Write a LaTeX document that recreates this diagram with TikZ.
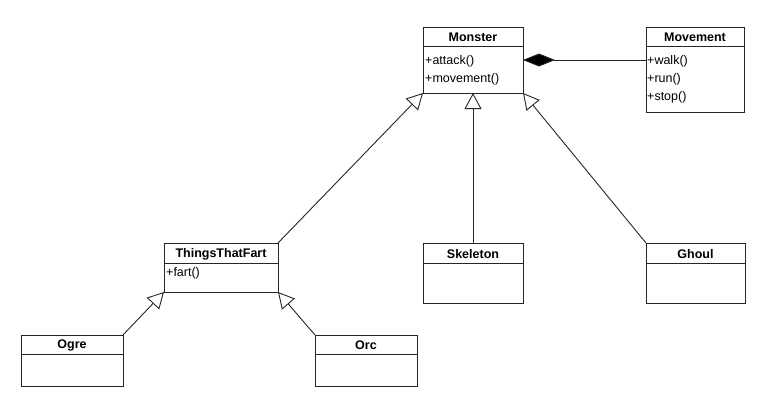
\documentclass[tikz,border=0pt]{standalone}
\usepackage{fontspec}
\setmainfont{Liberation Sans}
\usetikzlibrary{arrows.meta,calc}
\begin{document}
\begin{tikzpicture}[x=1pt,y=-1pt,
  cls/.style={draw=black!85, line width=0.9pt, rectangle, anchor=north west, inner sep=0pt, outer sep=0pt},
  ttl/.style={inner sep=0pt, font=\bfseries\fontsize{12.5}{14}\selectfont},
  mem/.style={anchor=west, inner sep=0pt, font=\fontsize{12.5}{14}\selectfont},
  sep/.style={draw=black!85, line width=0.9pt},
  gen/.style={draw=black!85, line width=0.9pt, -{Triangle[open,length=16pt,width=17pt,fill=white]}},
  comp/.style={draw=black!85, line width=0.9pt, {Diamond[length=32pt,width=13pt,fill=black]}-}]
\useasboundingbox[fill=white] (0,0) rectangle (764,405);
% classes
\node[cls, minimum width=100pt, minimum height=66pt] (mon) at (423,27) {};
\node[cls, minimum width=98pt, minimum height=85pt] (mov) at (646,27) {};
\node[cls, minimum width=114pt, minimum height=49pt] (tf) at (164,243) {};
\node[cls, minimum width=100pt, minimum height=60pt] (sk) at (423,243) {};
\node[cls, minimum width=99pt, minimum height=60pt] (gh) at (646,243) {};
\node[cls, minimum width=102pt, minimum height=51pt] (ogre) at (21,335) {};
\node[cls, minimum width=102pt, minimum height=51pt] (orc) at (315,335) {};
% header separators
\draw[sep] ($(mon.north west)+(0,19)$) -- ($(mon.north east)+(0,19)$);
\draw[sep] ($(mov.north west)+(0,19)$) -- ($(mov.north east)+(0,19)$);
\draw[sep] ($(tf.north west)+(0,20)$) -- ($(tf.north east)+(0,20)$);
\draw[sep] ($(sk.north west)+(0,20)$) -- ($(sk.north east)+(0,20)$);
\draw[sep] ($(gh.north west)+(0,20)$) -- ($(gh.north east)+(0,20)$);
\draw[sep] ($(ogre.north west)+(0,19)$) -- ($(ogre.north east)+(0,19)$);
\draw[sep] ($(orc.north west)+(0,19)$) -- ($(orc.north east)+(0,19)$);
% titles
\node[ttl] (tmon) at ($(mon.north)+(0,10)$) {Monster};
\node[ttl] (tmov) at ($(mov.north)+(0,10)$) {Movement};
\node[ttl] (ttf) at ($(tf.north)+(0,11)$) {ThingsThatFart};
\node[ttl] (tsk) at ($(sk.north)+(0,11)$) {Skeleton};
\node[ttl] (tgh) at ($(gh.north)+(0,11)$) {Ghoul};
\node[ttl] (togre) at ($(ogre.north)+(0,10)$) {Ogre};
\node[ttl] (torc) at ($(orc.north)+(0,10)$) {Orc};
% members
\node[mem] (m1) at (425,61) {+attack()};
\node[mem] (m2) at (425,79) {+movement()};
\node[mem] (v1) at (647,61) {+walk()};
\node[mem] (v2) at (647,79) {+run()};
\node[mem] (v3) at (647,97) {+stop()};
\node[mem] (f1) at (166,273) {+fart()};
% connectors
\draw[comp] (mon.east) -- (mov.west |- mon.east);
\draw[gen] (tf.north east) -- (mon.south west);
\draw[gen] (sk.north) -- (mon.south);
\draw[gen] (gh.north west) -- (mon.south east);
\draw[gen] (ogre.north east) -- (tf.south west);
\draw[gen] (orc.north west) -- (tf.south east);
\end{tikzpicture}
\end{document}
